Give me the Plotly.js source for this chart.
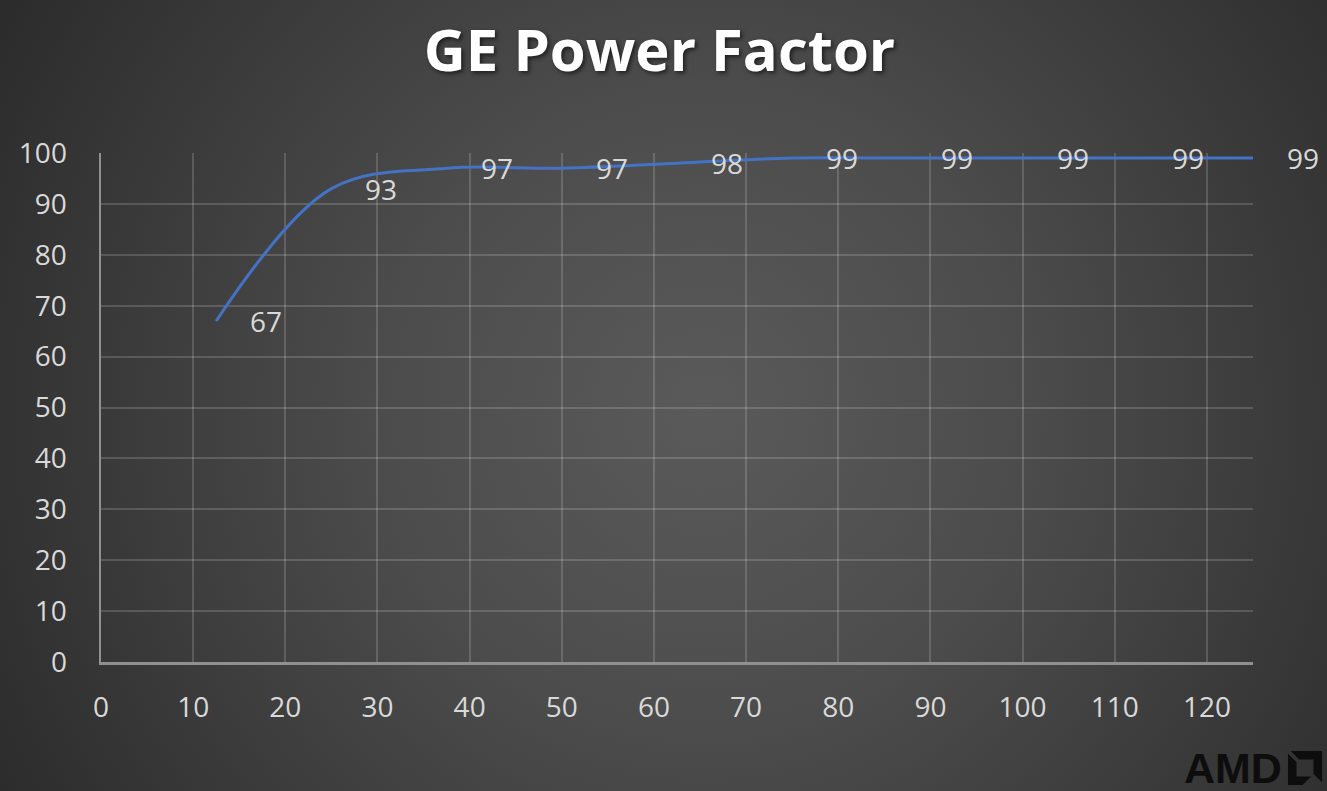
<!DOCTYPE html>
<html>
<head>
<meta charset="utf-8">
<script src="https://cdn.plot.ly/plotly-3.0.1.min.js"></script>
<style>
  html, body { margin: 0; padding: 0; }
  body { width: 1327px; height: 791px; overflow: hidden;
    background: radial-gradient(circle 800px at 53% 52%, #5a5a5a 0%, #4c4c4c 40%, #2c2c2c 100%); }
  #chart { width: 1327px; height: 791px; }
</style>
</head>
<body>
<div id="chart"></div>
<script>
// ---- data ----
const titleText = "GE Power Factor";
const loadPercent = [12.5, 25, 37.5, 50, 62.5, 75, 87.5, 100, 112.5, 125];
const powerFactor = [67, 93, 97, 97, 98, 99, 99, 99, 99, 99];
const xTickValues = [0, 10, 20, 30, 40, 50, 60, 70, 80, 90, 100, 110, 120];
const yTickValues = [0, 10, 20, 30, 40, 50, 60, 70, 80, 90, 100];

// ---- layout helpers (pixel -> paper) ----
const W = 1327, H = 791;
const M = { l: 101, r: 74, t: 153, b: 129 };
const PW = W - M.l - M.r, PH = H - M.t - M.b;
const px = v => (v - M.l) / PW;
const py = v => (H - M.b - v) / PH;

function logoPath(pts, x0, y0, s) {
  return pts.map((p, i) => (i ? 'L' : 'M') + px(x0 + p[0] * s).toFixed(5) + ',' + py(y0 + p[1] * s).toFixed(5)).join(' ') + ' Z';
}
const bigPiece = [[0.08,0],[1,0],[1,0.92],[0.75,0.68],[0.75,0.25],[0.32,0.25]];
const smallPiece = [[0,0.08],[0.25,0.32],[0.25,0.75],[0.68,0.75],[0.43,1],[0,1]];

const tickFont = { family: 'Open Sans, sans-serif', size: 28, color: '#d9d9d9' };

const trace = {
  x: loadPercent,
  y: powerFactor,
  type: 'scatter',
  mode: 'lines',
  line: { color: '#4472C4', width: 3, shape: 'spline', smoothing: 1 },
  cliponaxis: false,
  hoverinfo: 'x+y'
};

const labelAnnotations = loadPercent.map((xv, i) => ({
  x: xv, y: powerFactor[i], xref: 'x', yref: 'y',
  text: String(powerFactor[i]),
  showarrow: false,
  xanchor: 'center', yanchor: 'middle',
  xshift: 50, yshift: 0,
  font: tickFont
}));

const layout = {
  width: W, height: H,
  margin: M,
  paper_bgcolor: 'rgba(0,0,0,0)',
  plot_bgcolor: 'rgba(0,0,0,0)',
  showlegend: false,
  title: {
    text: titleText,
    x: 659.5 / W, xanchor: 'center',
    y: 1 - 51 / H, yanchor: 'middle',
    font: { family: 'Open Sans, sans-serif', size: 58, color: '#ffffff', weight: 700,
            shadow: '2px 2px 4px rgba(0,0,0,0.6)' }
  },
  xaxis: {
    range: [0, 125],
    tickvals: xTickValues,
    ticktext: xTickValues.map(String),
    ticks: '',
    ticklabelstandoff: 19,
    tickfont: tickFont,
    showgrid: true,
    gridcolor: 'rgba(255,255,255,0.16)',
    gridwidth: 2,
    showline: true,
    linecolor: '#909090',
    linewidth: 2.5,
    zeroline: false,
    fixedrange: true
  },
  yaxis: {
    range: [0, 100],
    tickvals: yTickValues,
    ticktext: yTickValues.map(String),
    ticks: '',
    ticklabelstandoff: 26,
    tickfont: tickFont,
    showgrid: true,
    gridcolor: 'rgba(255,255,255,0.16)',
    gridwidth: 2,
    showline: true,
    linecolor: '#909090',
    linewidth: 2.5,
    zeroline: false,
    fixedrange: true
  },
  annotations: labelAnnotations.concat([{
    text: '<b>AMD</b>',
    xref: 'paper', yref: 'paper',
    x: px(1182), xanchor: 'left',
    y: py(768), yanchor: 'middle',
    height: 40, valign: 'middle',
    showarrow: false,
    font: { family: 'Liberation Sans, Arial, sans-serif', size: 43, color: '#0d0d0d' }
  }]),
  shapes: [
    { type: 'path', xref: 'paper', yref: 'paper', path: logoPath(bigPiece, 1288, 751, 34),
      fillcolor: '#0d0d0d', line: { width: 0 } },
    { type: 'path', xref: 'paper', yref: 'paper', path: logoPath(smallPiece, 1288, 751, 34),
      fillcolor: '#0d0d0d', line: { width: 0 } }
  ]
};

Plotly.newPlot('chart', [trace], layout, { displayModeBar: false, staticPlot: true });
</script>
</body>
</html>
